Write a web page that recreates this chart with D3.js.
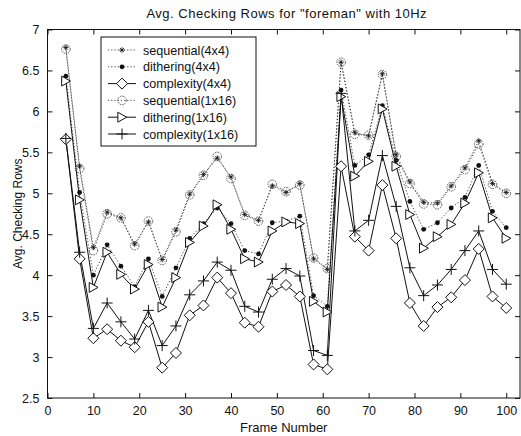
<!DOCTYPE html>
<html><head><meta charset="utf-8">
<script src="https://cdn.jsdelivr.net/npm/d3@7"></script>
<style>
html,body{margin:0;padding:0;background:#fff;}
svg text{font-family:"Liberation Sans",Arial,sans-serif;fill:#111;}
</style></head>
<body><svg id="c" width="521" height="436"></svg>
<script>
const frames = [4,7,10,13,16,19,22,25,28,31,34,37,40,43,46,49,52,55,58,61,64,67,70,73,76,79,82,85,88,91,94,97,100];
const seq4x4  = [6.78,5.33,4.34,4.77,4.70,4.38,4.65,4.19,4.55,4.99,5.23,5.43,5.20,4.74,4.67,5.09,5.01,5.12,4.20,4.07,6.60,5.74,5.70,6.46,5.47,5.14,4.89,4.88,5.09,5.31,5.64,5.12,5.01];
const dith4x4 = [6.43,5.01,4.00,4.37,4.11,3.86,4.20,3.74,4.09,4.45,4.63,4.82,4.63,4.30,4.26,4.64,4.66,4.72,3.75,3.62,6.26,5.34,5.47,6.07,5.40,4.90,4.56,4.64,4.82,4.95,5.34,4.78,4.58];
const comp4x4 = [5.66,4.20,3.23,3.34,3.20,3.12,3.43,2.87,3.05,3.51,3.63,3.97,3.78,3.42,3.37,3.80,3.88,3.74,2.91,2.85,5.33,4.47,4.30,5.10,4.45,3.66,3.38,3.61,3.73,3.94,4.32,3.74,3.60];
const seq1x16 = [6.76,5.30,4.30,4.75,4.70,4.36,4.66,4.18,4.53,4.98,5.22,5.45,5.18,4.73,4.66,5.11,5.02,5.10,4.21,4.08,6.60,5.72,5.71,6.45,5.45,5.12,4.87,4.86,5.08,5.29,5.60,5.11,5.00];
const dith1x16 = [6.37,4.92,3.85,4.28,4.01,3.83,4.13,3.61,3.97,4.40,4.60,4.86,4.56,4.20,4.16,4.54,4.65,4.63,3.68,3.55,6.18,5.21,5.39,6.03,5.33,4.74,4.33,4.47,4.62,4.88,5.25,4.70,4.45];
const comp1x16 = [5.67,4.28,3.35,3.66,3.43,3.22,3.57,3.14,3.38,3.76,3.93,4.16,4.06,3.62,3.55,3.95,4.08,3.99,3.08,3.02,6.22,4.54,4.67,5.46,4.84,4.09,3.75,3.88,4.07,4.30,4.54,4.07,3.89];
const seriesNames = ["sequential(4x4)","dithering(4x4)","complexity(4x4)","sequential(1x16)","dithering(1x16)","complexity(1x16)"];
const xTicks = [0,10,20,30,40,50,60,70,80,90,100];
const yTicks = [2.5,3,3.5,4,4.5,5,5.5,6,6.5,7];
const titleText = 'Avg. Checking Rows for "foreman" with 10Hz';
const xLabel = "Frame Number";
const yLabel = "Avg. Checking Rows";

const styles = [
  {data: seq4x4,  dash: "1.2,2", marker: "star"},
  {data: dith4x4, dash: "1.2,2", marker: "dot"},
  {data: comp4x4, dash: null,    marker: "diamond"},
  {data: seq1x16, dash: "1.2,2", marker: "circle"},
  {data: dith1x16,dash: null,    marker: "triangle"},
  {data: comp1x16,dash: null,    marker: "plus"}
];

const svg = d3.select("#c");
const L = 47.5, R = 520, T = 29.5, B = 398;
const x = d3.scaleLinear().domain([0, 103]).range([L, R]);
const y = d3.scaleLinear().domain([2.5, 7]).range([B, T]);

function markerPath(type, s) {
  const p = d3.path();
  if (type === "diamond") { p.moveTo(0,-s); p.lineTo(s,0); p.lineTo(0,s); p.lineTo(-s,0); p.closePath(); }
  else if (type === "triangle") { p.moveTo(s*0.9,0); p.lineTo(-s*0.8,-s*0.95); p.lineTo(-s*0.8,s*0.95); p.closePath(); }
  else if (type === "plus") { p.moveTo(-s,0); p.lineTo(s,0); p.moveTo(0,-s); p.lineTo(0,s); }
  else if (type === "star") { p.moveTo(-s,0); p.lineTo(s,0); p.moveTo(0,-s); p.lineTo(0,s);
    const d = s*0.7; p.moveTo(-d,-d); p.lineTo(d,d); p.moveTo(-d,d); p.lineTo(d,-d); }
  return p.toString();
}
function drawMarker(g, type, cx, cy) {
  if (type === "circle") {
    g.append("circle").attr("cx",cx).attr("cy",cy).attr("r",4.3).attr("fill","none").attr("stroke","#444").attr("stroke-width",0.9).attr("stroke-dasharray","1.5,1");
  } else if (type === "dot") {
    g.append("circle").attr("cx",cx).attr("cy",cy).attr("r",2.4).attr("fill","#111");
  } else {
    const sz = {diamond:5.5, triangle:5.2, plus:5.5, star:2.8}[type];
    g.append("path").attr("d", markerPath(type, sz)).attr("transform",`translate(${cx},${cy})`)
      .attr("fill", (type==="diamond"||type==="triangle") ? "#fff" : "none")
      .attr("stroke", "#111").attr("stroke-width", type==="star"?0.8:1);
  }
}

// frame
svg.append("rect").attr("x",L).attr("y",T).attr("width",R-L).attr("height",B-T).attr("fill","#fff").attr("stroke","#111").attr("stroke-width",1);

// axes with inward ticks
const xAxisB = d3.axisBottom(x).tickValues(xTicks).tickSizeInner(-5).tickSizeOuter(0).tickPadding(8);
const xAxisT = d3.axisTop(x).tickValues(xTicks).tickSizeInner(-5).tickSizeOuter(0).tickFormat("");
const yAxisL = d3.axisLeft(y).tickValues(yTicks).tickSizeInner(-5).tickSizeOuter(0).tickPadding(8).tickFormat(d3.format("~g"));
const yAxisR = d3.axisRight(y).tickValues(yTicks).tickSizeInner(-5).tickSizeOuter(0).tickFormat("");
function style(g){ g.select(".domain").remove(); g.selectAll("line").attr("stroke","#111"); g.selectAll("text").attr("font-size",12.5).attr("fill","#111").style("font-family",'"Liberation Sans",Arial,sans-serif'); }
svg.append("g").attr("transform",`translate(0,${B})`).call(xAxisB).call(style);
svg.append("g").attr("transform",`translate(0,${T})`).call(xAxisT).call(style);
svg.append("g").attr("transform",`translate(${L},0)`).call(yAxisL).call(style);
svg.append("g").attr("transform",`translate(${R},0)`).call(yAxisR).call(style);

// series
const line = d3.line().x((d,i)=>x(frames[i])).y(d=>y(d));
styles.forEach(s => {
  svg.append("path").datum(s.data).attr("d", line).attr("fill","none")
    .attr("stroke", s.dash ? "#333" : "#111").attr("stroke-width", s.dash ? 0.9 : 1)
    .attr("stroke-dasharray", s.dash);
});
styles.forEach(s => {
  const g = svg.append("g");
  s.data.forEach((v,i) => drawMarker(g, s.marker, x(frames[i]), y(v)));
});

// legend
const lg = svg.append("g");
lg.append("rect").attr("x",101).attr("y",37).attr("width",155).attr("height",109).attr("fill","#fff").attr("stroke","#111").attr("stroke-width",1);
seriesNames.forEach((name,i) => {
  const cy = 50 + i*16.8;
  const st = styles[i];
  lg.append("line").attr("x1",108).attr("x2",136).attr("y1",cy).attr("y2",cy)
    .attr("stroke", st.dash ? "#333" : "#111").attr("stroke-width", st.dash?0.9:1).attr("stroke-dasharray", st.dash);
  drawMarker(lg, st.marker, 122, cy);
  lg.append("text").attr("x",143).attr("y",cy+4.5).attr("font-size",12.6).text(name);
});

// title & labels
svg.append("text").attr("x",(L+R)/2+3).attr("y",17.5).attr("text-anchor","middle").attr("font-size",13).attr("letter-spacing",0.5).text(titleText);
svg.append("text").attr("x",(L+R)/2).attr("y",432).attr("text-anchor","middle").attr("font-size",13).text(xLabel);
svg.append("text").attr("transform",`translate(22,${(T+B)/2}) rotate(-90)`).attr("text-anchor","middle").attr("font-size",12).text(yLabel);
</script></body></html>
